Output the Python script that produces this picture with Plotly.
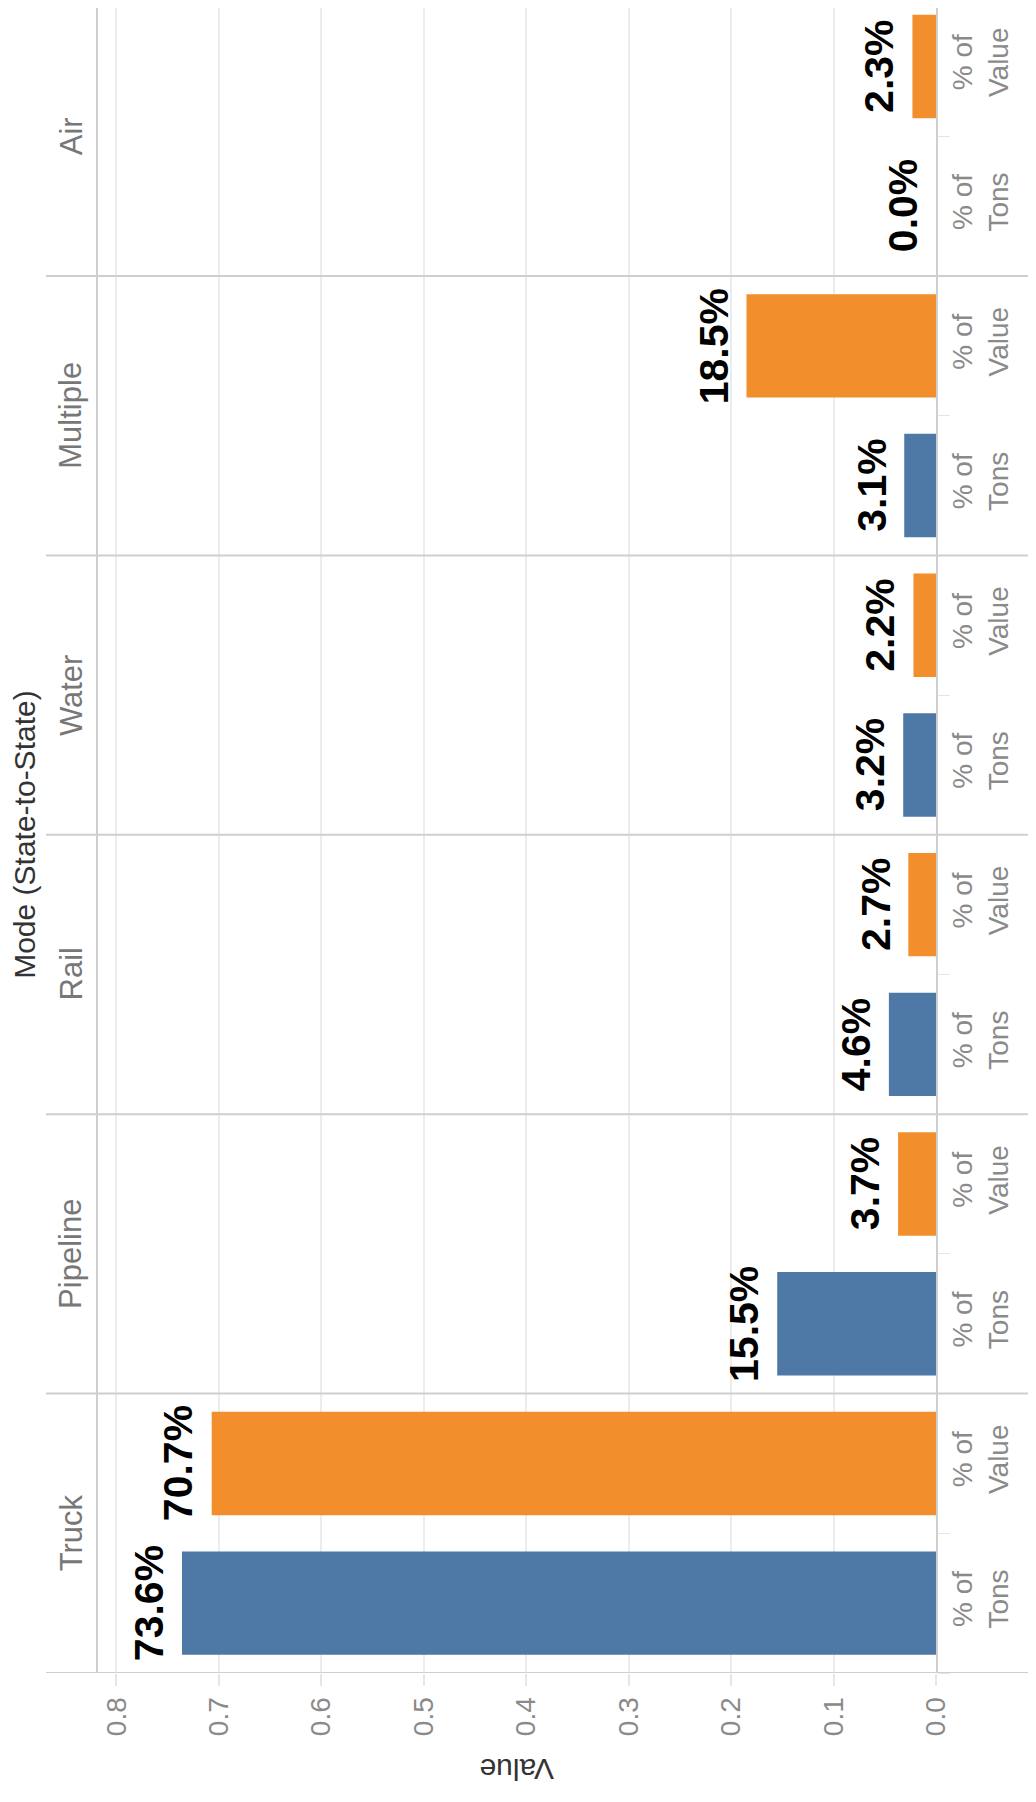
import plotly.graph_objects as go

# ---- data ----
modes = ["Truck", "Pipeline", "Rail", "Water", "Multiple", "Air"]
measures = ["% of Tons", "% of Value"]
pct_tons = [0.736, 0.155, 0.046, 0.032, 0.031, 0.000]
pct_value = [0.707, 0.037, 0.027, 0.022, 0.185, 0.023]
x_ticks = [0.0, 0.1, 0.2, 0.3, 0.4, 0.5, 0.6, 0.7, 0.8]
header_title = "Mode (State-to-State)"
value_title = "Value"

FONT = "Liberation Sans, Arial, sans-serif"
BLUE = "#4e79a7"
ORANGE = "#f28e2b"

cats_tons = [f"{m} | {measures[0]}" for m in modes]
cats_value = [f"{m} | {measures[1]}" for m in modes]
cat_order = []
for a, b in zip(cats_tons, cats_value):
    cat_order += [a, b]
tick_text = []
for _ in modes:
    tick_text += ["% of<br>Tons", "% of<br>Value"]

# figure sits inside the page body (8px margin)
W, H = 1020, 1786
L, R, T, B = 90, 92, 0, 121
plot_w = W - L - R
plot_h = H - T - B
unit = 139.7
y_top = -0.5 + plot_h / unit

fig = go.Figure()
for cats, vals, col in [(cats_tons, pct_tons, BLUE), (cats_value, pct_value, ORANGE)]:
    fig.add_trace(go.Bar(
        y=cats, x=vals, orientation="h", marker=dict(color=col, line=dict(width=0)),
        width=0.74, showlegend=False, hoverinfo="skip",
    ))
    for c, v in zip(cats, vals):
        fig.add_annotation(
            text=f"<b>{v:.1%}</b>", x=v, y=c, xref="x", yref="y",
            textangle=-90, showarrow=False, xanchor="right", yanchor="middle",
            xshift=-8, font=dict(family=FONT, size=41, color="#000000"),
        )

fig.update_layout(
    width=W, height=H,
    margin=dict(l=L, r=R, t=T, b=B),
    barmode="overlay",
    plot_bgcolor="white", paper_bgcolor="white",
    font=dict(family=FONT),
    xaxis=dict(
        range=[0.818, 0], tickvals=x_ticks, tickformat=".1f", tickangle=-90,
        tickfont=dict(size=28, color="#8a8a8a"),
        showgrid=True, gridcolor="#ececec", gridwidth=1.5,
        zeroline=False, showline=False,
        ticks="outside", ticklen=12, tickcolor="#e6e6e6", tickwidth=1.5,
        automargin=False,
    ),
    yaxis=dict(
        type="category", categoryorder="array", categoryarray=cat_order,
        range=[-0.5, y_top], side="right",
        tickmode="array", tickvals=cat_order, ticktext=tick_text, tickangle=-90,
        tickfont=dict(size=28, color="#8a8a8a"),
        showgrid=False, zeroline=False,
        showline=True, mirror=True, linecolor="#cfcfcf", linewidth=2,
        ticks="outside", tickson="boundaries", ticklen=12, tickcolor="#e6e6e6",
        automargin=False,
    ),
)

# panel separators
x0p = (38 - L) / plot_w
x1p = (W - L) / plot_w
for i in range(len(modes)):
    yb = 2 * i - 0.5
    fig.add_shape(type="line", xref="paper", yref="y", x0=x0p, x1=x1p, y0=yb, y1=yb,
                  line=dict(color="#cfcfcf", width=2), layer="above")

# row headers
for i, m in enumerate(modes):
    fig.add_annotation(text=m, xref="paper", yref="y", x=(63 - L) / plot_w, y=2 * i + 0.5,
                       textangle=-90, showarrow=False, xanchor="center", yanchor="middle",
                       font=dict(family=FONT, size=31, color="#777777"))

fig.add_annotation(text=header_title, xref="paper", yref="y", x=(17 - L) / plot_w,
                   y=len(modes) - 0.5, textangle=-90, showarrow=False,
                   xanchor="center", yanchor="middle", borderpad=0,
                   font=dict(family=FONT, size=30, color="#333333"))

fig.add_annotation(text=value_title, xref="paper", yref="paper", x=0.5,
                   y=-(1762 - (H - B)) / plot_h, textangle=180, showarrow=False,
                   xanchor="center", yanchor="middle",
                   font=dict(family=FONT, size=30, color="#333333"))

fig.write_html("out.html")
